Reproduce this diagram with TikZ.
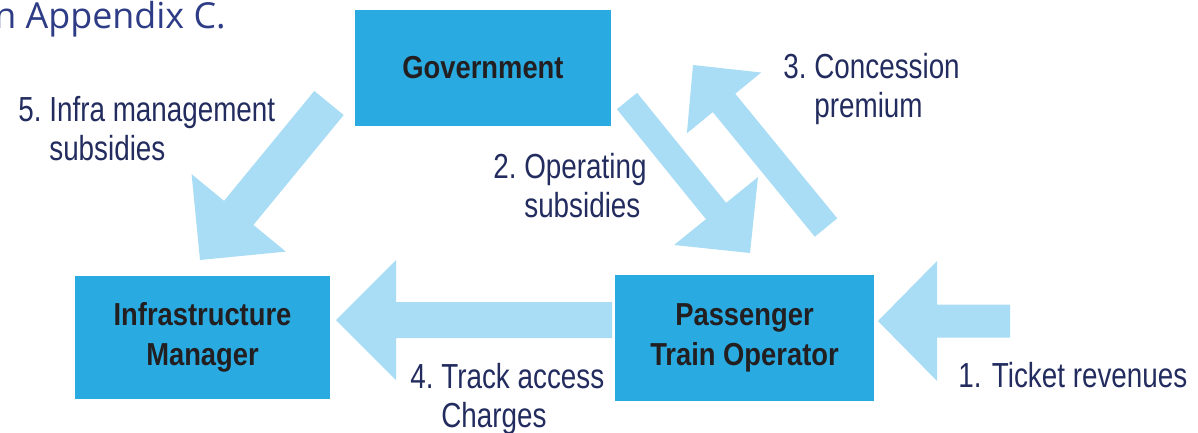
\documentclass[tikz,border=0pt]{standalone}
\usepackage{fontspec}
\setmainfont{Liberation Sans}
\newfontfamily\narrowfont[FakeStretch=0.8]{Liberation Sans}
\newfontfamily\boxnarrowfont[FakeStretch=0.86]{Liberation Sans}
\newfontfamily\headfont{Open Sans}
\usetikzlibrary{calc,positioning}
\definecolor{boxblue}{HTML}{29ABE2}
\definecolor{flowblue}{HTML}{A9DCF5}
\definecolor{navytext}{HTML}{232C5E}
\definecolor{boxtext}{HTML}{231F20}
\definecolor{headnavy}{HTML}{2D3C85}

% block arrow: tail, tip, shaft half width, head half width, head length (px)
\newcommand{\flowarrow}[5]{%
  \coordinate (hb) at ($(#2)!#5*0.02cm!(#1)$);
  \fill[flowblue] ($(#1)!#3*0.02cm!90:(#2)$) -- ($(hb)!#3*0.02cm!90:(#2)$)
    -- ($(hb)!#4*0.02cm!90:(#2)$) -- (#2) -- ($(hb)!#4*0.02cm!-90:(#2)$)
    -- ($(hb)!#3*0.02cm!-90:(#2)$) -- ($(#1)!#3*0.02cm!-90:(#2)$) -- cycle;
}

\begin{document}
\begin{tikzpicture}[x=0.02cm, y=-0.02cm,
  party/.style={fill=boxblue, inner sep=0pt, align=center, text=boxtext,
    font=\boxnarrowfont\bfseries\fontsize{18.1}{22.4}\selectfont},
  flowlbl/.style={inner sep=0pt, align=left, anchor=base west, text=navytext,
    font=\narrowfont\fontsize{19.8}{21.8}\selectfont}]
\useasboundingbox (0,0) rectangle (1198,433);
\clip (0,0) rectangle (1198,433);

\node[anchor=base west, inner sep=0pt, text=headnavy,
  font=\headfont\fontsize{20.4}{24}\selectfont] (head) at (-6,28) {n Appendix C.};

\node[party, minimum width=5.12cm, minimum height=2.32cm] (gov) at (483,68) {Government};
\node[party, minimum width=5.1cm, minimum height=2.46cm] (im) at (202.5,337.5) {Infrastructure\\Manager};
\node[party, minimum width=5.18cm, minimum height=2.52cm] (pto) at (744.5,338) {Passenger\\Train Operator};

% money flows
\coordinate (t1) at (1010,321);  \coordinate (h1) at (878,321);
\coordinate (t2) at (627,101);   \coordinate (h2) at (750,253);
\coordinate (t3) at (826,227.5); \coordinate (h3) at (693,65);
\coordinate (t4) at (612,320);   \coordinate (h4) at (336,320);
\coordinate (t5) at (329,103);   \coordinate (h5) at (200,260);
\flowarrow{t1}{h1}{16.5}{60}{59}
\flowarrow{t2}{h2}{13}{54}{54}
\flowarrow{t3}{h3}{14.5}{48}{49}
\flowarrow{t4}{h4}{18}{60}{60}
\flowarrow{t5}{h5}{19}{61}{61}

% labels, anchored at the base of their last line
\node[flowlbl] (l1) at (958,387) {1. Ticket revenues};
\node[flowlbl] (l2) at (524,217) {\llap{2.\ }Operating\\subsidies};
\node[flowlbl] (l3) at (814,117) {\llap{3.\ }Concession\\premium};
\node[flowlbl] (l4) at (441,427) {\llap{4.\ }Track access\\Charges};
\node[flowlbl] (l5) at (49,160) {\llap{5.\ }Infra management\\subsidies};
\end{tikzpicture}
\end{document}
